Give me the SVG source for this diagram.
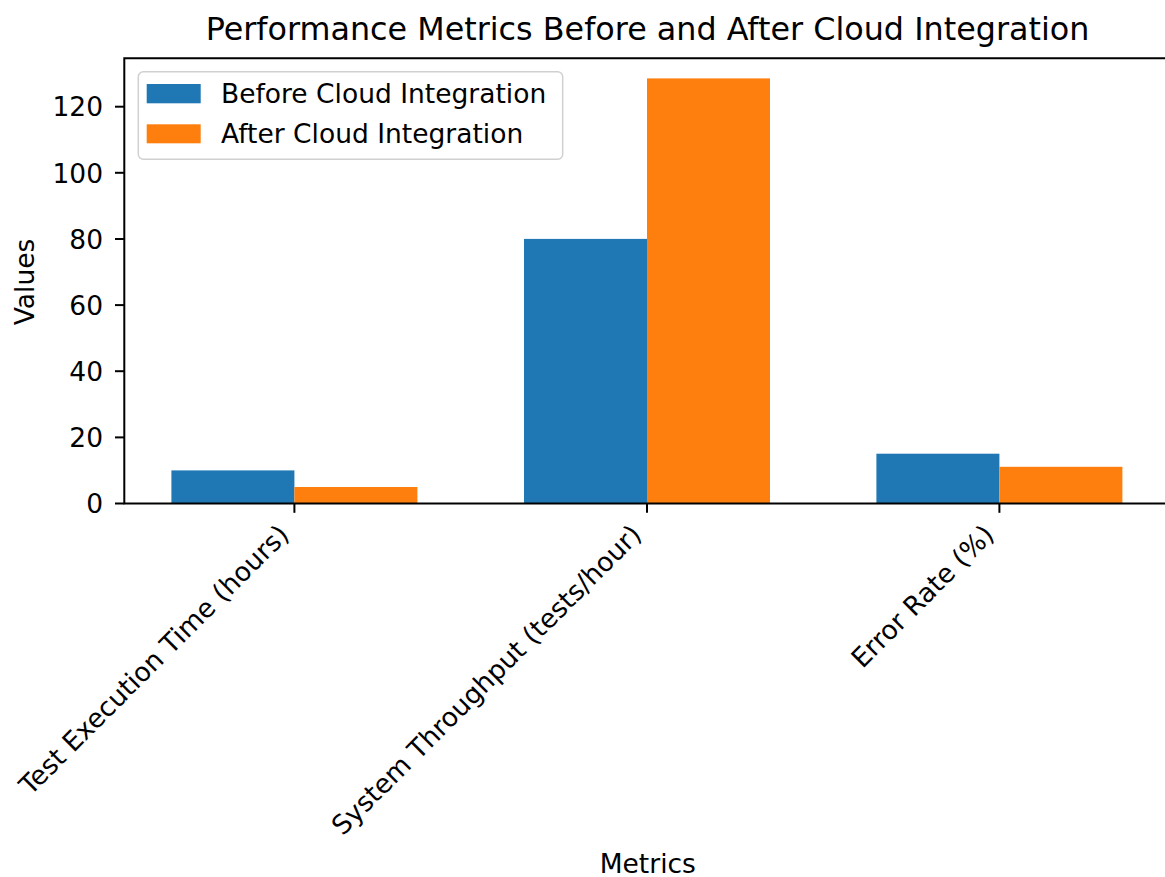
<svg xmlns="http://www.w3.org/2000/svg" width="1165" height="877" viewBox="0 0 1165 877">
<style>
text { font-family: "DejaVu Sans", "Liberation Sans", sans-serif; fill: #000; }
.tick { font-size: 26.5px; }
.lbl { font-size: 26.5px; }
.title { font-size: 31.8px; }
.before { fill: #1f77b4; }
.after { fill: #ff7f0e; }
.spine { stroke: #000; stroke-width: 2; fill: none; stroke-linecap: square; }
.tk { stroke: #000; stroke-width: 2; }
</style>
<rect x="0" y="0" width="1165" height="877" fill="#ffffff"/>
<g id="bars">
  <rect id="bar-test-before" class="before" x="171.4" y="470.4" width="123" height="33.1"/>
  <rect id="bar-test-after" class="after" x="294.4" y="487" width="123" height="16.5"/>
  <rect id="bar-throughput-before" class="before" x="524" y="238.9" width="123" height="264.6"/>
  <rect id="bar-throughput-after" class="after" x="647" y="78.4" width="123" height="425.1"/>
  <rect id="bar-error-before" class="before" x="876.4" y="453.7" width="123" height="49.8"/>
  <rect id="bar-error-after" class="after" x="999.4" y="466.8" width="123" height="36.7"/>
</g>
<g id="axes">
  <path class="spine" d="M124.3 503.5 V58.3 H1170 M124.3 503.5 H1170"/>
  <g id="yticks">
    <line class="tk" x1="115" y1="503.5" x2="124.3" y2="503.5"/>
    <line class="tk" x1="115" y1="437.4" x2="124.3" y2="437.4"/>
    <line class="tk" x1="115" y1="371.2" x2="124.3" y2="371.2"/>
    <line class="tk" x1="115" y1="305.1" x2="124.3" y2="305.1"/>
    <line class="tk" x1="115" y1="239" x2="124.3" y2="239"/>
    <line class="tk" x1="115" y1="172.8" x2="124.3" y2="172.8"/>
    <line class="tk" x1="115" y1="106.7" x2="124.3" y2="106.7"/>
    <text class="tick" x="103" y="513.2" text-anchor="end">0</text>
    <text class="tick" x="103" y="447.1" text-anchor="end">20</text>
    <text class="tick" x="103" y="380.9" text-anchor="end">40</text>
    <text class="tick" x="103" y="314.8" text-anchor="end">60</text>
    <text class="tick" x="103" y="248.7" text-anchor="end">80</text>
    <text class="tick" x="103" y="182.5" text-anchor="end">100</text>
    <text class="tick" x="103" y="116.4" text-anchor="end">120</text>
  </g>
  <g id="xticks">
    <line class="tk" x1="294.4" y1="503.5" x2="294.4" y2="512.8"/>
    <line class="tk" x1="647" y1="503.5" x2="647" y2="512.8"/>
    <line class="tk" x1="999.4" y1="503.5" x2="999.4" y2="512.8"/>
    <text class="tick" text-anchor="end" transform="translate(290.5 536.3) rotate(-45)">Test Execution Time (hours)</text>
    <text class="tick" text-anchor="end" transform="translate(643.1 536.3) rotate(-45)">System Throughput (tests/hour)</text>
    <text class="tick" text-anchor="end" transform="translate(995.5 536.3) rotate(-45)">Error Rate (%)</text>
  </g>
  <text class="lbl" x="647.8" y="873.3" text-anchor="middle">Metrics</text>
  <text class="lbl" text-anchor="middle" transform="translate(33.5 282) rotate(-90)">Values</text>
  <text class="title" x="647.5" y="39.5" text-anchor="middle">Performance Metrics Before and After Cloud Integration</text>
</g>
<g id="legend">
  <rect x="138.3" y="71.7" width="424.4" height="87.6" rx="5" ry="5" fill="#ffffff" fill-opacity="0.8" stroke="#d0d0d0" stroke-width="1.5"/>
  <rect class="before" x="146.7" y="84" width="54" height="19.3"/>
  <text class="lbl" x="221" y="103.3">Before Cloud Integration</text>
  <rect class="after" x="146.7" y="124.3" width="54" height="19"/>
  <text class="lbl" x="221" y="142.7">After Cloud Integration</text>
</g>
</svg>
